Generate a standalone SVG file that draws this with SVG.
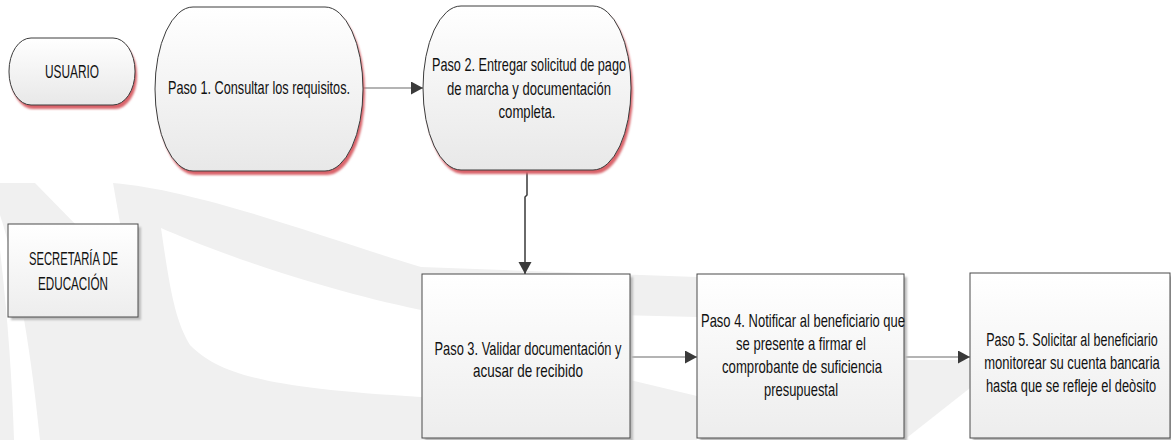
<svg xmlns="http://www.w3.org/2000/svg" width="1171" height="440" viewBox="0 0 1171 440">
  <defs>
    <linearGradient id="gRound" x1="0" y1="0" x2="0" y2="1">
      <stop offset="0" stop-color="#ffffff"/>
      <stop offset="1" stop-color="#e8e8e8"/>
    </linearGradient>
    <linearGradient id="gRect" x1="0" y1="0" x2="0" y2="1">
      <stop offset="0" stop-color="#ffffff"/>
      <stop offset="1" stop-color="#ededed"/>
    </linearGradient>
    <filter id="soft" x="-10%" y="-10%" width="120%" height="120%">
      <feGaussianBlur stdDeviation="0.8"/>
    </filter>
    <marker id="arr" markerUnits="userSpaceOnUse" markerWidth="13" markerHeight="14" refX="12" refY="6.5" orient="auto">
      <path d="M0,0 L12,6.5 L0,13 Z" fill="#3a3a3a"/>
    </marker>
    <style>
      .node { fill: url(#gRound); stroke: #3c3c3c; stroke-width: 1; }
      .box { fill: url(#gRect); stroke: #4a4a4a; stroke-width: 1; }
      .redsh { fill: #d9646a; filter: url(#soft); }
      .graysh { fill: #bcbcbc; filter: url(#soft); }
      .lbl { font-family: "Liberation Sans", Arial, sans-serif; font-size: 19px; fill: #111111; text-anchor: middle; }
      .conn { fill: none; stroke: #6a6a6a; stroke-width: 1.2; }
      .connd { fill: none; stroke: #3a3a3a; stroke-width: 1.5; }
      .wm { fill: #f0f0f0; }
    </style>
  </defs>

  <rect x="0" y="0" width="1171" height="440" fill="#ffffff"/>

  <g id="watermark">
    <path class="wm" d="M0,183 L35,183 L130,280 L113,183 C200,190 330,240 421,267 L697,277 L800,290 L800,330 L697,317 L421,310 C300,285 200,245 161,228 C170,290 175,320 190,345 C220,375 268,388 421,397 L630,380 L697,396 L697,440 L40,440 C30,340 15,260 0,215 Z"/>
    <path class="wm" d="M0,250 C8,320 12,380 14,440 L0,440 Z"/>
    <path class="wm" d="M904,360 L970,360 L970,388 L904,440 Z"/>
  </g>

  <g id="connectors">
    <path class="conn" d="M363,88 L423,88" marker-end="url(#arr)"/>
    <path class="connd" d="M527,171 L527,195 L525,197 L525,274" marker-end="url(#arr)"/>
    <path class="conn" d="M630,357 L697,357" marker-end="url(#arr)"/>
    <path class="conn" d="M904,357 L970,357" marker-end="url(#arr)"/>
  </g>

  <g id="usuario">
    <rect class="redsh" x="11" y="42" width="126" height="67" rx="22" ry="33"/>
    <rect class="node" x="9" y="38" width="126" height="67" rx="22" ry="33"/>
    <text class="lbl" x="72" y="78" textLength="54" lengthAdjust="spacingAndGlyphs">USUARIO</text>
  </g>

  <g id="paso1">
    <rect class="redsh" x="157" y="11" width="208" height="164" rx="38" ry="82"/>
    <rect class="node" x="155" y="7" width="208" height="164" rx="38" ry="82"/>
    <text class="lbl" x="259" y="94" textLength="182" lengthAdjust="spacingAndGlyphs">Paso 1. Consultar los requisitos.</text>
  </g>

  <g id="paso2">
    <rect class="redsh" x="425" y="10" width="208" height="164" rx="38" ry="82"/>
    <rect class="node" x="423" y="6" width="208" height="164" rx="38" ry="82"/>
    <text class="lbl" x="529" y="71" textLength="194" lengthAdjust="spacingAndGlyphs">Paso 2. Entregar solicitud de pago</text>
    <text class="lbl" x="529" y="95" textLength="164" lengthAdjust="spacingAndGlyphs">de marcha y documentación</text>
    <text class="lbl" x="527" y="118" textLength="57" lengthAdjust="spacingAndGlyphs">completa.</text>
  </g>

  <g id="secretaria">
    <rect class="graysh" x="11" y="227" width="130" height="93"/>
    <rect class="box" x="8" y="224" width="130" height="93"/>
    <text class="lbl" x="73.5" y="265" textLength="89" lengthAdjust="spacingAndGlyphs">SECRETARÍA DE</text>
    <text class="lbl" x="73" y="290" textLength="70" lengthAdjust="spacingAndGlyphs">EDUCACIÓN</text>
  </g>

  <g id="paso3">
    <rect class="graysh" x="425" y="277" width="208" height="166"/>
    <rect class="box" x="422" y="274" width="208" height="164"/>
    <text class="lbl" x="528" y="355" textLength="187" lengthAdjust="spacingAndGlyphs">Paso 3. Validar documentación y</text>
    <text class="lbl" x="528" y="377" textLength="110" lengthAdjust="spacingAndGlyphs">acusar de recibido</text>
  </g>

  <g id="paso4">
    <rect class="graysh" x="700" y="277" width="207" height="166"/>
    <rect class="box" x="697" y="274" width="207" height="164"/>
    <text class="lbl" x="803" y="327" textLength="204" lengthAdjust="spacingAndGlyphs">Paso 4.  Notificar al beneficiario que</text>
    <text class="lbl" x="801" y="350" textLength="130" lengthAdjust="spacingAndGlyphs">se presente a firmar el</text>
    <text class="lbl" x="802" y="373" textLength="160" lengthAdjust="spacingAndGlyphs">comprobante de suficiencia</text>
    <text class="lbl" x="801" y="396" textLength="74" lengthAdjust="spacingAndGlyphs">presupuestal</text>
  </g>

  <g id="paso5">
    <rect class="graysh" x="973" y="276" width="200" height="166"/>
    <rect class="box" x="970" y="273" width="200" height="165"/>
    <g transform="translate(1072,0) scale(0.67,1)">
      <text class="lbl" x="0" y="346" textLength="256" lengthAdjust="spacingAndGlyphs">Paso 5. Solicitar al beneficiario</text>
      <text class="lbl" x="0" y="369" textLength="262" lengthAdjust="spacingAndGlyphs">monitorear su cuenta bancaria</text>
      <text class="lbl" x="-1.5" y="392" textLength="254" lengthAdjust="spacingAndGlyphs">hasta que se refleje el deòsito</text>
    </g>
  </g>
</svg>
